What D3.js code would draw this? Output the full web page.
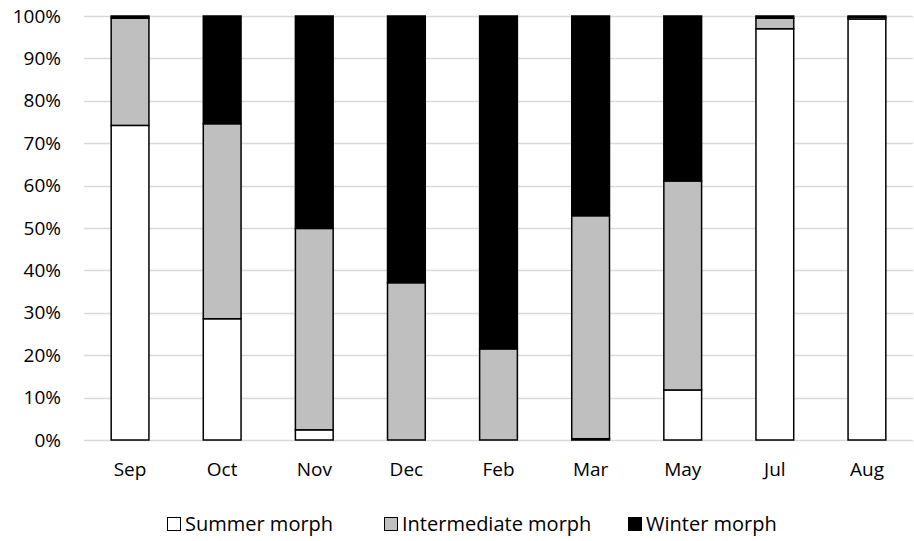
<!DOCTYPE html>
<html>
<head>
<meta charset="utf-8">
<script src="https://cdn.jsdelivr.net/npm/d3@7"></script>
<style>
	body { margin: 0; background: #fff; }
	text { font-family: "Open Sans", Lato, sans-serif; fill: #000; }
</style>
</head>
<body>
<div id="chart"></div>
<script>
var months = ['Sep', 'Oct', 'Nov', 'Dec', 'Feb', 'Mar', 'May', 'Jul', 'Aug'];
var summer = [74.2, 28.6, 2.4, 0, 0, 0.3, 11.8, 97.0, 99.3];
var intermediate = [25.3, 46.0, 47.5, 37.1, 21.5, 52.6, 49.3, 2.5, 0.4];
var winter = [0.5, 25.4, 50.1, 62.9, 78.5, 47.1, 38.9, 0.5, 0.3];
var seriesNames = ['Summer morph', 'Intermediate morph', 'Winter morph'];
var seriesColors = ['#ffffff', '#bfbfbf', '#000000'];
var yTicks = [0, 10, 20, 30, 40, 50, 60, 70, 80, 90, 100];

var margin = {top: 16, right: 1, bottom: 101, left: 84},
	width = 914 - margin.left - margin.right,
	height = 541 - margin.top - margin.bottom;

var svg = d3.select('#chart')
	.append('svg')
	.attr('width', 914)
	.attr('height', 541);

var g = svg.append('g')
	.attr('transform', 'translate(' + margin.left + ',' + margin.top + ')');

var x = d3.scaleBand()
	.domain(months)
	.range([0, width])
	.paddingInner(0.59)
	.paddingOuter(0.295);

var y = d3.scaleLinear()
	.domain([0, 100])
	.range([height, 0]);

// gridlines
g.selectAll('.grid')
	.data(yTicks)
	.enter()
	.append('line')
	.attr('x1', 0)
	.attr('x2', width)
	.attr('y1', function(d) { return Math.round(y(d)) + 0.5; })
	.attr('y2', function(d) { return Math.round(y(d)) + 0.5; })
	.attr('stroke', '#d9d9d9')
	.attr('stroke-width', 1.3);

var yAxis = g.append('g')
	.call(d3.axisLeft(y).tickValues(yTicks).tickSize(0).tickPadding(23)
		.tickFormat(function(d) { return d + '%'; }));
yAxis.select('.domain').remove();
yAxis.selectAll('text').style('font-size', '19px');

var xAxis = g.append('g')
	.attr('transform', 'translate(0,' + height + ')')
	.call(d3.axisBottom(x).tickSize(0).tickPadding(23));
xAxis.select('.domain').remove();
xAxis.selectAll('text').style('font-size', '19px');

var table = months.map(function(m, i) {
	return {month: m, s0: summer[i], s1: intermediate[i], s2: winter[i]};
});

var stack = d3.stack().keys(['s0', 's1', 's2']);
var layers = stack(table);

layers.forEach(function(layer, k) {
	g.append('g')
		.selectAll('rect')
		.data(layer)
		.enter()
		.append('rect')
		.attr('x', function(d) { return x(d.data.month); })
		.attr('width', x.bandwidth())
		.attr('y', function(d) { return y(d[1]); })
		.attr('height', function(d) { return Math.max(0, y(d[0]) - y(d[1])); })
		.attr('fill', seriesColors[k])
		.attr('stroke', function(d) { return (d[1] - d[0]) > 0 ? '#000' : 'none'; })
		.attr('stroke-width', 1.5);
});

// legend
var legendX = [167, 384, 628];
var legend = svg.append('g')
	.selectAll('g')
	.data(seriesNames)
	.enter()
	.append('g')
	.attr('transform', function(d, i) { return 'translate(' + legendX[i] + ',517)'; });

legend.append('rect')
	.attr('x', 0.5)
	.attr('y', 0.5)
	.attr('width', 13)
	.attr('height', 13)
	.attr('fill', function(d, i) { return seriesColors[i]; })
	.attr('stroke', '#000')
	.attr('stroke-width', 1);

legend.append('text')
	.attr('x', 18)
	.attr('y', 14)
	.style('font-size', '20px')
	.text(function(d) { return d; });
</script>
</body>
</html>
